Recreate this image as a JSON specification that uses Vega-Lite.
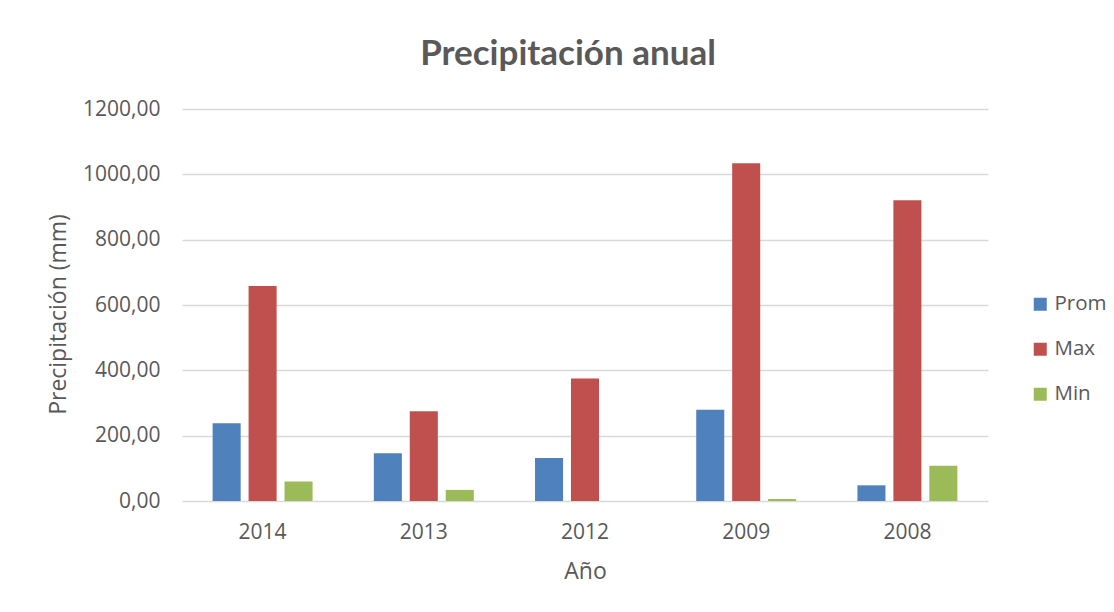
{
  "$schema": "https://vega.github.io/schema/vega-lite/v6.json",
  "width": 806,
  "height": 392,
  "autosize": {"type": "none"},
  "padding": {"left": 182, "top": 109, "right": 126, "bottom": 111},
  "background": "white",
  "title": {
    "text": "Precipitación anual",
    "font": "Lato",
    "fontSize": 35,
    "fontWeight": "bold",
    "color": "#595959",
    "anchor": "middle",
    "dx": -17,
    "offset": 26
  },
  "data": {
    "values": [
      {"year": "2014", "series": "Prom", "value": 238},
      {"year": "2014", "series": "Max", "value": 658},
      {"year": "2014", "series": "Min", "value": 60},
      {"year": "2013", "series": "Prom", "value": 146},
      {"year": "2013", "series": "Max", "value": 275},
      {"year": "2013", "series": "Min", "value": 34},
      {"year": "2012", "series": "Prom", "value": 132},
      {"year": "2012", "series": "Max", "value": 375},
      {"year": "2012", "series": "Min", "value": 0},
      {"year": "2009", "series": "Prom", "value": 279},
      {"year": "2009", "series": "Max", "value": 1034},
      {"year": "2009", "series": "Min", "value": 6},
      {"year": "2008", "series": "Prom", "value": 48},
      {"year": "2008", "series": "Max", "value": 921},
      {"year": "2008", "series": "Min", "value": 108}
    ]
  },
  "mark": {"type": "bar"},
  "encoding": {
    "x": {
      "field": "year",
      "type": "nominal",
      "sort": ["2014", "2013", "2012", "2009", "2008"],
      "scale": {"paddingInner": 0.38, "paddingOuter": 0.19},
      "axis": {
        "title": "Año",
        "labelAngle": 0,
        "labelPadding": 20,
        "titlePadding": 18,
        "domain": false,
        "ticks": false
      }
    },
    "xOffset": {
      "field": "series",
      "type": "nominal",
      "sort": ["Prom", "Max", "Min"],
      "scale": {"paddingInner": 0.22, "paddingOuter": 0}
    },
    "y": {
      "field": "value",
      "type": "quantitative",
      "scale": {"domain": [0, 1200]},
      "axis": {
        "title": "Precipitación (mm)",
        "values": [0, 200, 400, 600, 800, 1000, 1200],
        "format": ".2f",
        "labelPadding": 22,
        "domain": false,
        "ticks": false,
        "titleY": 205,
        "titlePadding": 12
      }
    },
    "color": {
      "field": "series",
      "type": "nominal",
      "scale": {"domain": ["Prom", "Max", "Min"], "range": ["#4F81BD", "#C0504D", "#9BBB59"]},
      "legend": {
        "title": null,
        "orient": "none",
        "legendX": 848,
        "legendY": 185,
        "symbolType": "square",
        "symbolSize": 169,
        "symbolStrokeWidth": 0,
        "rowPadding": 24,
        "labelOffset": 4
      }
    }
  },
  "config": {
    "locale": {"number": {"decimal": ",", "thousands": ".", "grouping": [3], "currency": ["", " €"]}},
    "view": {"stroke": null},
    "font": "Open Sans",
    "axis": {
      "labelFont": "Open Sans",
      "labelFontSize": 21,
      "labelColor": "#595959",
      "titleFont": "Open Sans",
      "titleFontSize": 23,
      "titleFontWeight": "normal",
      "titleColor": "#595959",
      "gridColor": "#D9D9D9",
      "gridWidth": 1.5
    },
    "legend": {
      "labelFont": "Open Sans",
      "labelFontSize": 20.5,
      "labelColor": "#595959"
    }
  }
}
